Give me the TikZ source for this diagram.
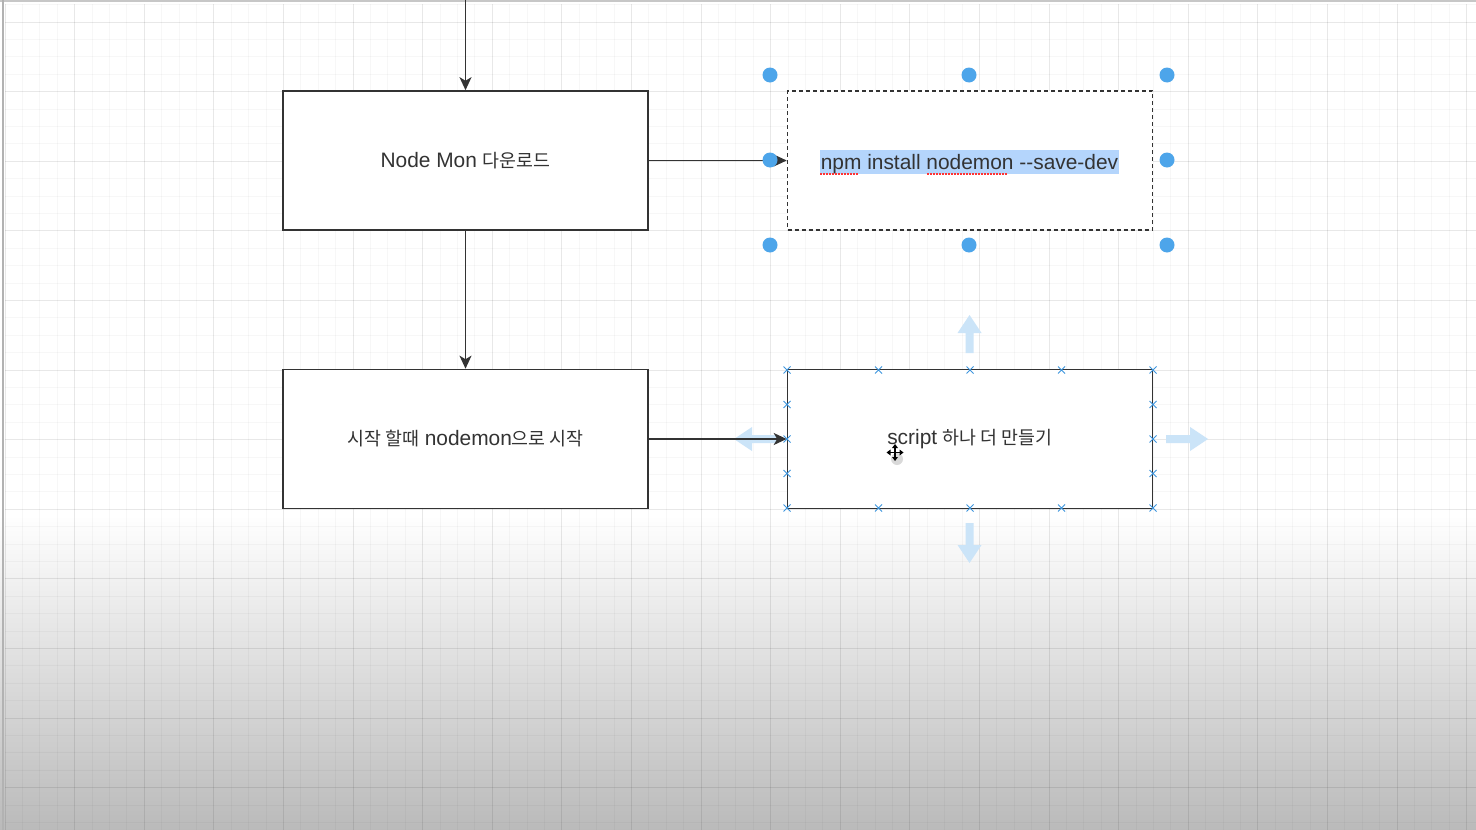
\documentclass[tikz,border=0pt]{standalone}
\usepackage{fontspec}
\setmainfont{Liberation Sans}
\newfontfamily\kr[Scale=0.88]{Noto Sans CJK KR}
\usetikzlibrary{arrows.meta}
\definecolor{ink}{HTML}{333333}
\definecolor{handle}{HTML}{4DA5EA}
\definecolor{hlblue}{HTML}{B4D5FC}
\definecolor{hoverblue}{HTML}{CBE4F8}
\definecolor{ptblue}{HTML}{3D95DD}
\tikzset{
  gridminor/.style={black, opacity=0.03, line width=1pt},
  gridmajor/.style={black, opacity=0.06, line width=1pt},
  boxstyle/.style={draw=ink, line width=1.6pt, fill=white, minimum width=365pt, minimum height=139pt, inner sep=0pt, text=ink, font=\fontsize{20.9}{25}\selectfont},
  dashbox/.style={boxstyle, dash pattern=on 4pt off 3pt},
  conn/.style={draw=ink, line width=1.5pt, -{Stealth[length=13pt,width=12pt,inset=3.5pt]}},
  handledot/.style={fill=handle, draw=none},
  hoverarrow/.style={fill=hoverblue, draw=none},
  cpx/.pic={\draw[ptblue, line width=1pt] (-3.5,-3.5) -- (3.5,3.5) (-3.5,3.5) -- (3.5,-3.5);}
}
\begin{document}
\begin{tikzpicture}[x=1pt,y=-1pt]
\useasboundingbox (0,0) rectangle (1476,830);
\fill[white] (0,0) rectangle (1476,830);
\shade[top color=white, bottom color=black!27] (0,515) rectangle (1476,830);
% grid
\foreach \i in {0,...,84} {\draw[gridminor] ({5+17.4*\i},4) -- ({5+17.4*\i},830);}
\foreach \j in {0,...,47} {\draw[gridminor] (5,{4.6+17.4*\j}) -- (1476,{4.6+17.4*\j});}
\foreach \m in {0,...,21} {\draw[gridmajor] ({5+69.6*\m},4) -- ({5+69.6*\m},830);}
\foreach \m in {0,...,11} {\draw[gridmajor] (5,{22+69.6*\m}) -- (1476,{22+69.6*\m});}
% frame edges
\draw[black!22, line width=2.5pt] (0,1) -- (1476,1);
\draw[black!30, line width=2pt] (2.5,0) -- (2.5,830);

% boxes
\node[boxstyle] (dl) at (465.5,160.5) {\raisebox{-2pt}{Node Mon {\kr 다운로드}}};
\node[boxstyle] (start) at (465.5,439) {\raisebox{-2pt}{{\kr 시작 할때} nodemon{\kr 으로 시작}}};
\node[dashbox] (npm) at (970,160.5) {};
\fill[hlblue] (820,150) rectangle (1118.5,174);
\node[text=ink, font=\fontsize{20.9}{25}\selectfont, inner sep=0pt] (npmtext) at (969.5,164) {npm install nodemon -{}-save-dev};
\draw[red!80, line width=1.2pt, dash pattern=on 1.5pt off 1.5pt] (820,174) -- (859,174);
\draw[red!80, line width=1.2pt, dash pattern=on 1.5pt off 1.5pt] (927,174) -- (1008,174);

% hover arrows for script box
\fill[hoverblue] (969.5,315) -- (981.5,333) -- (973.5,333) -- (973.5,353) -- (965.5,353) -- (965.5,333) -- (957.5,333) -- cycle;
\fill[hoverblue] (969.5,563) -- (981.5,545) -- (973.5,545) -- (973.5,523) -- (965.5,523) -- (965.5,545) -- (957.5,545) -- cycle;
\fill[hoverblue] (734,439) -- (752,427) -- (752,435) -- (777,435) -- (777,443) -- (752,443) -- (752,451) -- cycle;
\fill[hoverblue] (1208,439) -- (1190,427) -- (1190,435) -- (1166,435) -- (1166,443) -- (1190,443) -- (1190,451) -- cycle;

\node[boxstyle] (script) at (970,439) {\raisebox{-2pt}{script {\kr 하나 더 만들기}}};

% connectors
\coordinate (topin) at (465.5,0);
\draw[conn] (topin) -- (dl.north);
\draw[conn] (dl.south) -- (start.north);
\draw[conn] (dl.east) -- (npm.west);
\draw[conn] (start.east) -- (script.west);

% selection handles on npm box
\foreach \p in {(770,75),(969,75),(1167,75),(770,160),(1167,160),(770,245),(969,245),(1167,245)}
  {\fill[handledot] \p circle (7.5);}

% connection points on script box
\foreach \x in {787,878.5,970,1061.5,1153} {
  \pic at (\x,370) {cpx};
  \pic at (\x,508) {cpx};
}
\foreach \y in {404.5,439,473.5} {
  \pic at (787,\y) {cpx};
  \pic at (1153,\y) {cpx};
}

% move cursor
\fill[black, opacity=0.15] (897,459) circle (6);
\draw[black, line width=1.3pt] (888,452.5) -- (902,452.5) (895,445.5) -- (895,459.5);
\fill[black] (895,444) -- (892,448) -- (898,448) -- cycle;
\fill[black] (895,461) -- (892,457) -- (898,457) -- cycle;
\fill[black] (886.5,452.5) -- (890.5,449.5) -- (890.5,455.5) -- cycle;
\fill[black] (903.5,452.5) -- (899.5,449.5) -- (899.5,455.5) -- cycle;
\end{tikzpicture}
\end{document}
